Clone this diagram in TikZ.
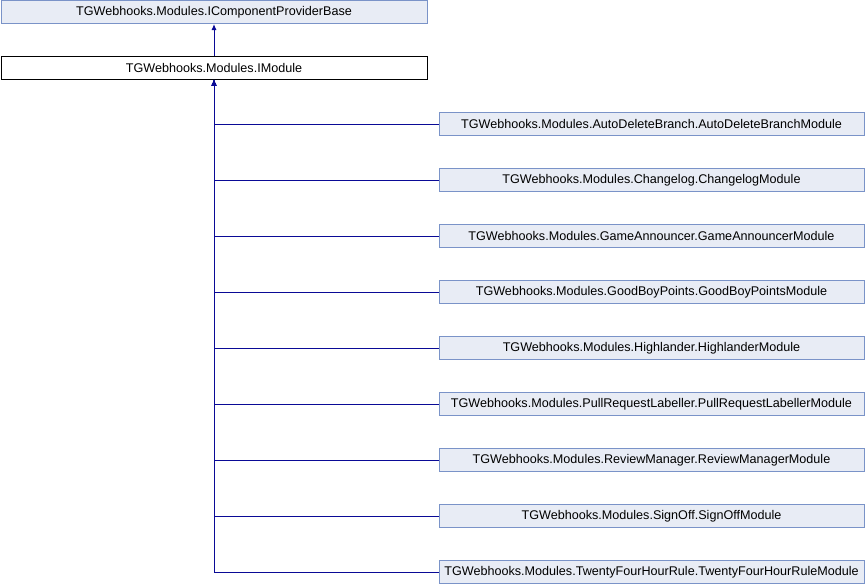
\documentclass[tikz,border=0pt]{standalone}
\usepackage{fontspec}
\setmainfont{Liberation Sans}
\usetikzlibrary{arrows.meta}
\definecolor{boxfill}{RGB}{232,236,245}
\definecolor{boxline}{RGB}{122,147,200}
\definecolor{edgeblue}{RGB}{10,10,150}
\tikzset{
  classbox/.style={draw=boxline, fill=boxfill, line width=1pt, inner sep=0pt,
    minimum width=426pt, minimum height=23pt, font=\fontsize{12.6}{13}\selectfont},
  mainbox/.style={classbox, draw=black, fill=white},
  inherit/.style={draw=edgeblue, line width=1pt, -{Latex[length=6pt,width=5pt]}}
}
\begin{document}
\begin{tikzpicture}[x=1pt,y=-1pt]
      \useasboundingbox (0,0) rectangle (866,584);
      \node[classbox] (base) at (214,12) {TGWebhooks.Modules.IComponentProviderBase};
      \node[mainbox] (imod) at (214,67.5) {TGWebhooks.Modules.IModule};
      \draw[inherit] (imod.north) -- (base.south);
      % derived modules
      \foreach \n/\t [count=\i] in {
          ad/AutoDeleteBranch.AutoDeleteBranchModule,
          cl/Changelog.ChangelogModule,
          ga/GameAnnouncer.GameAnnouncerModule,
          gb/GoodBoyPoints.GoodBoyPointsModule,
          hl/Highlander.HighlanderModule,
          pr/PullRequestLabeller.PullRequestLabellerModule,
          rm/ReviewManager.ReviewManagerModule,
          so/SignOff.SignOffModule,
          tf/TwentyFourHourRule.TwentyFourHourRuleModule} {
        \node[classbox, minimum width=425pt] (\n) at (651.5,{124+56*(\i-1)}) {TGWebhooks.Modules.\t};
        \draw[inherit] (\n.west) -| (imod.south);
      }
    \end{tikzpicture}
\end{document}
